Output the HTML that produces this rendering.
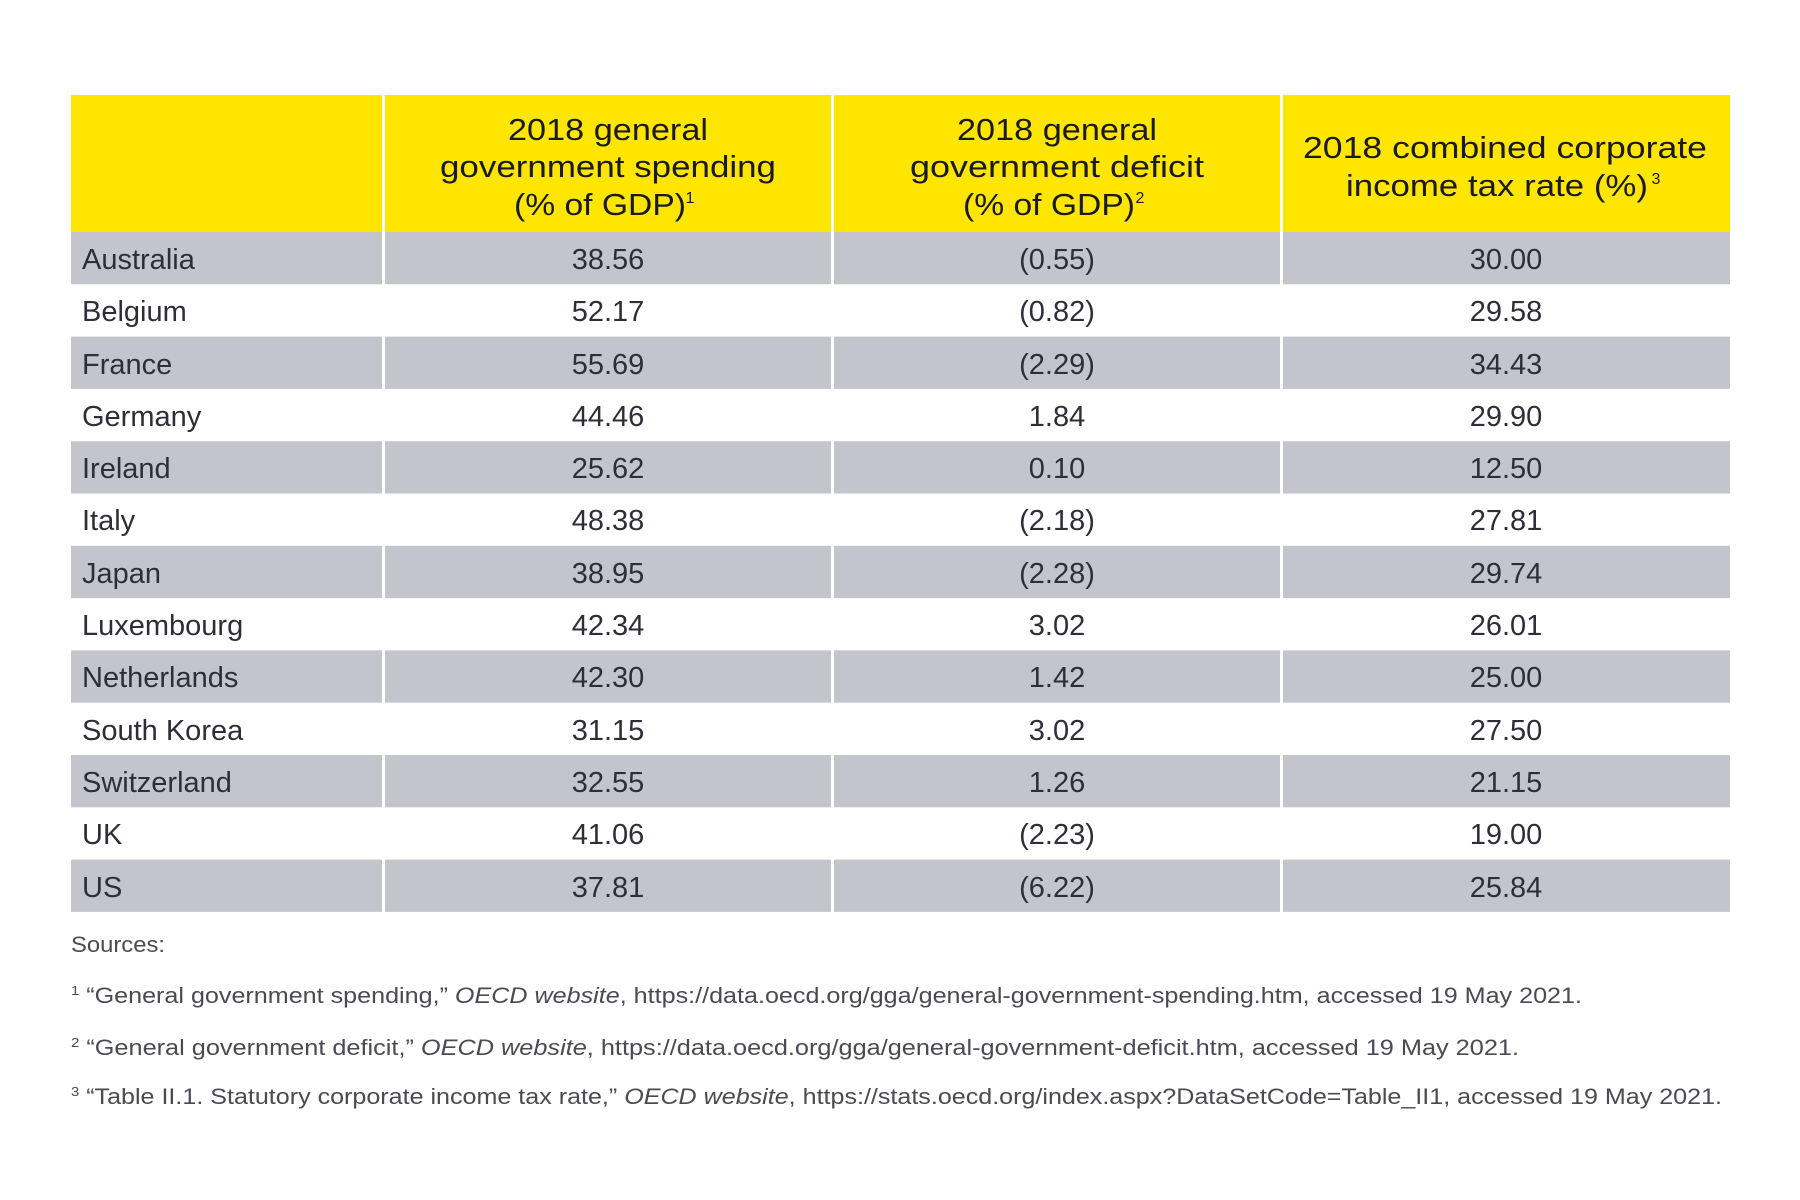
<!DOCTYPE html>
<html><head><meta charset="utf-8"><style>
html,body{margin:0;padding:0;background:#fff;}
svg{display:block;font-family:"Liberation Sans",sans-serif;}
</style></head><body>
<svg width="1800" height="1200" viewBox="0 0 1800 1200" xmlns="http://www.w3.org/2000/svg">
<rect width="1800" height="1200" fill="#fff"/>
<rect x="71" y="95" width="1659" height="137" fill="#ffe600"/>
<g fill="#c4c5cc">
<rect x="71" y="232" width="1659" height="52.3"/>
<rect x="71" y="336.6" width="1659" height="52.3"/>
<rect x="71" y="441.2" width="1659" height="52.3"/>
<rect x="71" y="545.8" width="1659" height="52.3"/>
<rect x="71" y="650.4" width="1659" height="52.3"/>
<rect x="71" y="755" width="1659" height="52.3"/>
<rect x="71" y="859.6" width="1659" height="52.3"/>
</g>
<g fill="#fff">
<rect x="382" y="95" width="3" height="818"/>
<rect x="831" y="95" width="3" height="818"/>
<rect x="1280" y="95" width="3" height="818"/>
</g>
<g fill="#1a1a24" font-size="31" text-anchor="middle">
<text x="608" y="140" textLength="200" lengthAdjust="spacingAndGlyphs">2018 general</text>
<text x="608" y="177" textLength="336" lengthAdjust="spacingAndGlyphs">government spending</text>
<text x="600" y="215" textLength="172" lengthAdjust="spacingAndGlyphs">(% of GDP)</text>
<text x="690" y="203" font-size="16">1</text>
<text x="1057" y="140" textLength="200" lengthAdjust="spacingAndGlyphs">2018 general</text>
<text x="1057" y="177" textLength="294" lengthAdjust="spacingAndGlyphs">government deficit</text>
<text x="1049" y="215" textLength="172" lengthAdjust="spacingAndGlyphs">(% of GDP)</text>
<text x="1140" y="203" font-size="16">2</text>
<text x="1505" y="158" textLength="404" lengthAdjust="spacingAndGlyphs">2018 combined corporate</text>
<text x="1497" y="196" textLength="302" lengthAdjust="spacingAndGlyphs">income tax rate (%)</text>
<text x="1656" y="184" font-size="16">3</text>
</g>
<g fill="#2e2e38" font-size="29">
<g text-anchor="start">
<text x="82" y="269">Australia</text>
<text x="82" y="321">Belgium</text>
<text x="82" y="374">France</text>
<text x="82" y="426">Germany</text>
<text x="82" y="478">Ireland</text>
<text x="82" y="530">Italy</text>
<text x="82" y="583">Japan</text>
<text x="82" y="635">Luxembourg</text>
<text x="82" y="687">Netherlands</text>
<text x="82" y="740">South Korea</text>
<text x="82" y="792">Switzerland</text>
<text x="82" y="844">UK</text>
<text x="82" y="897">US</text>
</g>
<g text-anchor="middle">
<text x="608" y="269">38.56</text><text x="1057" y="269">(0.55)</text><text x="1506" y="269">30.00</text>
<text x="608" y="321">52.17</text><text x="1057" y="321">(0.82)</text><text x="1506" y="321">29.58</text>
<text x="608" y="374">55.69</text><text x="1057" y="374">(2.29)</text><text x="1506" y="374">34.43</text>
<text x="608" y="426">44.46</text><text x="1057" y="426">1.84</text><text x="1506" y="426">29.90</text>
<text x="608" y="478">25.62</text><text x="1057" y="478">0.10</text><text x="1506" y="478">12.50</text>
<text x="608" y="530">48.38</text><text x="1057" y="530">(2.18)</text><text x="1506" y="530">27.81</text>
<text x="608" y="583">38.95</text><text x="1057" y="583">(2.28)</text><text x="1506" y="583">29.74</text>
<text x="608" y="635">42.34</text><text x="1057" y="635">3.02</text><text x="1506" y="635">26.01</text>
<text x="608" y="687">42.30</text><text x="1057" y="687">1.42</text><text x="1506" y="687">25.00</text>
<text x="608" y="740">31.15</text><text x="1057" y="740">3.02</text><text x="1506" y="740">27.50</text>
<text x="608" y="792">32.55</text><text x="1057" y="792">1.26</text><text x="1506" y="792">21.15</text>
<text x="608" y="844">41.06</text><text x="1057" y="844">(2.23)</text><text x="1506" y="844">19.00</text>
<text x="608" y="897">37.81</text><text x="1057" y="897">(6.22)</text><text x="1506" y="897">25.84</text>
</g>
</g>
<g fill="#4a4a52" font-size="22">
<text x="71" y="952" textLength="94" lengthAdjust="spacingAndGlyphs">Sources:</text>
<text x="71" y="1003" textLength="1511" lengthAdjust="spacingAndGlyphs"><tspan font-size="13" dy="-8">1</tspan><tspan dy="8"> “General government spending,” </tspan><tspan font-style="italic">OECD website</tspan>, https://data.oecd.org/gga/general-government-spending.htm, accessed 19 May 2021.</text>
<text x="71" y="1055" textLength="1448" lengthAdjust="spacingAndGlyphs"><tspan font-size="13" dy="-8">2</tspan><tspan dy="8"> “General government deficit,” </tspan><tspan font-style="italic">OECD website</tspan>, https://data.oecd.org/gga/general-government-deficit.htm, accessed 19 May 2021.</text>
<text x="71" y="1104" textLength="1651" lengthAdjust="spacingAndGlyphs"><tspan font-size="13" dy="-8">3</tspan><tspan dy="8"> “Table II.1. Statutory corporate income tax rate,” </tspan><tspan font-style="italic">OECD website</tspan>, https://stats.oecd.org/index.aspx?DataSetCode=Table_II1, accessed 19 May 2021.</text>
</g>
</svg>
</body></html>
